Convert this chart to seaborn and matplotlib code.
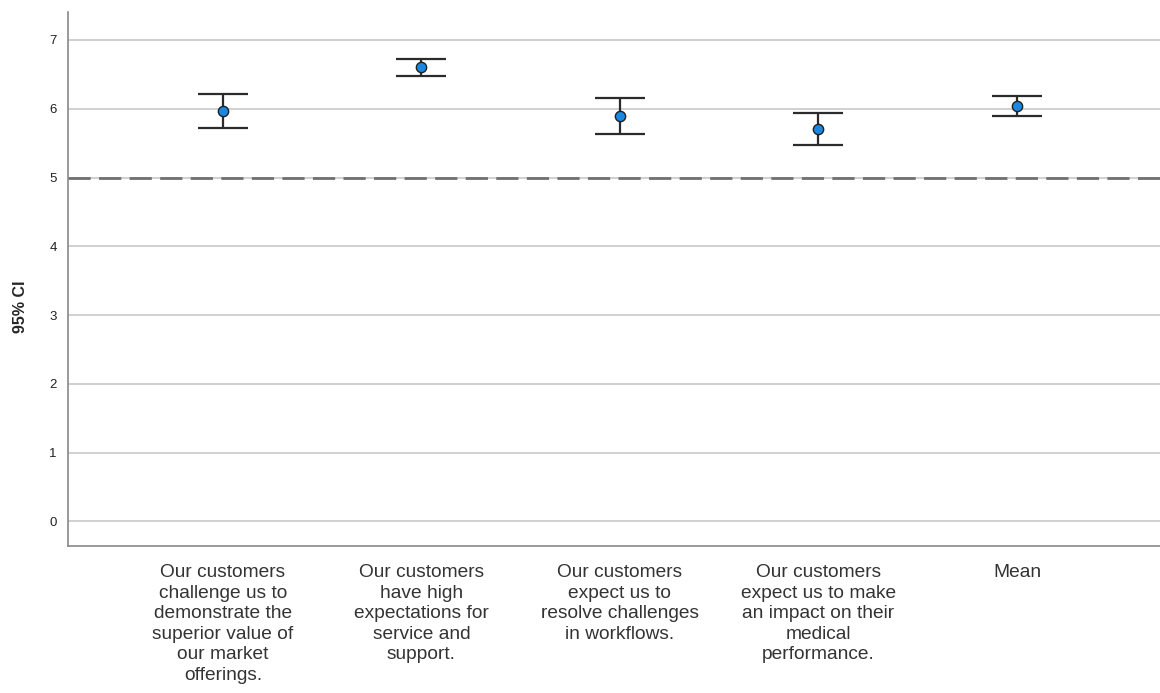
import matplotlib
matplotlib.use("Agg")
import matplotlib.pyplot as plt
import seaborn as sns
import pandas as pd

categories = [
    "Our customers\nchallenge us to\ndemonstrate the\nsuperior value of\nour market\nofferings.",
    "Our customers\nhave high\nexpectations for\nservice and\nsupport.",
    "Our customers\nexpect us to\nresolve challenges\nin workflows.",
    "Our customers\nexpect us to make\nan impact on their\nmedical\nperformance.",
    "Mean",
]
means = [5.97, 6.60, 5.89, 5.70, 6.04]
lower = [5.72, 6.48, 5.63, 5.47, 5.90]
upper = [6.21, 6.73, 6.16, 5.94, 6.18]
yticks = [0, 1, 2, 3, 4, 5, 6, 7]
reference = 5

sns.set_theme(style="white")
plt.rcParams['font.family'] = ['Liberation Sans', 'DejaVu Sans']

df = pd.DataFrame({"item": categories, "mean": means, "lo": lower, "hi": upper})
df["pos"] = range(len(df))

fig = plt.figure(figsize=(11.6, 6.93), dpi=100)
ax = fig.add_axes([0.0586, 0.212, 0.9414, 0.771])

for y in yticks:
    ax.axhline(y, color="#c8c8c8", lw=1.2, zorder=0)
ax.axhline(reference, color="#707070", lw=2, ls=(0, (8, 3)), zorder=1)

ax.errorbar(df["pos"], df["mean"],
            yerr=[df["mean"] - df["lo"], df["hi"] - df["mean"]],
            fmt="none", ecolor="#2b2b2b", elinewidth=1.6, capsize=18, capthick=1.6, zorder=2)
sns.scatterplot(data=df, x="pos", y="mean", ax=ax, s=55, color="#1a87e0",
                edgecolor="#1f1f1f", linewidth=1.0, zorder=3, legend=False)

ax.set_xlim(-0.78, 4.72)
ax.set_ylim(-0.36, 7.41)
ax.set_yticks(yticks)
ax.set_yticklabels([str(v) for v in yticks], fontsize=9.5, color="#222222")
ax.set_xticks(df["pos"])
ax.set_xticklabels(categories, fontsize=13.8, color="#333333", va="top", linespacing=1.27)
ax.tick_params(axis="both", length=0, pad=8)
ax.tick_params(axis="x", pad=13)
ax.set_xlabel("")
ax.set_ylabel("95% CI", fontsize=11.5, fontweight="bold")
ax.yaxis.set_label_coords(-0.037, 0.448)

for s in ["top", "right"]:
    ax.spines[s].set_visible(False)
for s in ["left", "bottom"]:
    ax.spines[s].set_color("#888888")
    ax.spines[s].set_linewidth(1.2)

fig.savefig("out.png", dpi=100)
